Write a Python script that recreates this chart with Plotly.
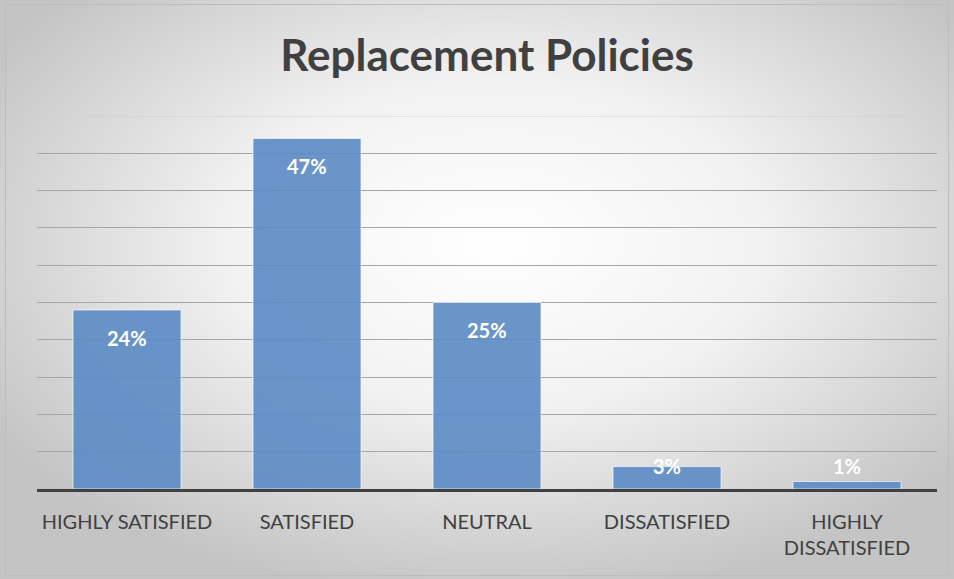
import base64
import plotly.graph_objects as go

# Survey results
categories = ["HIGHLY SATISFIED", "SATISFIED", "NEUTRAL", "DISSATISFIED", "HIGHLY<br>DISSATISFIED"]
values = [24, 47, 25, 3, 1]
labels = ["24%", "47%", "25%", "3%", "1%"]
y_max = 50

W, H = 954, 579
L, R, T, B = 37, 17, 116, 90
pw, ph = W - L - R, H - T - B

# Radial gray-to-white backdrop as an SVG image
svg = f"""<svg xmlns='http://www.w3.org/2000/svg' width='{W}' height='{H}' viewBox='0 0 {W} {H}' preserveAspectRatio='none'>
<defs><radialGradient id='g' cx='52%' cy='42%' r='62%'>
<stop offset='0%' stop-color='#ffffff'/>
<stop offset='45%' stop-color='#f2f2f2'/>
<stop offset='100%' stop-color='#c4c4c4'/>
</radialGradient></defs>
<rect x='0' y='0' width='{W}' height='{H}' fill='url(#g)'/>
<rect x='5.5' y='4.5' width='{W-11}' height='{H-8}' fill='none' stroke='#bdbdbd' stroke-width='1'/>
</svg>"""
src = "data:image/svg+xml;base64," + base64.b64encode(svg.encode()).decode()

fig = go.Figure()
fig.add_trace(go.Bar(
    x=categories, y=values, width=0.6,
    marker=dict(color="#5e8dc6", opacity=0.92, line=dict(color="rgba(255,255,255,0.7)", width=1)),
    hoverinfo="skip",
))

# Value labels inside the top of each bar (kept readable for very short bars)
for c, v, t in zip(categories, values, labels):
    fig.add_annotation(
        x=c, y=max(v - 3.75, 3.1), text=f"<b>{t}</b>", showarrow=False,
        font=dict(family="Lato, Calibri, sans-serif", size=20, color="white"),
        xanchor="center", yanchor="middle",
    )

# Topmost gridline at the axis maximum
fig.add_shape(type="line", xref="paper", yref="y", x0=0, x1=1, y0=y_max, y1=y_max,
              line=dict(color="#cfcfcf", width=1), layer="below")

fig.add_layout_image(dict(
    source=src, xref="paper", yref="paper",
    x=-L / pw, y=1 + T / ph, sizex=W / pw, sizey=H / ph,
    xanchor="left", yanchor="top", sizing="stretch", layer="below",
))

fig.update_layout(
    width=W, height=H,
    margin=dict(l=L, r=R, t=T, b=B, pad=0),
    paper_bgcolor="white", plot_bgcolor="rgba(0,0,0,0)",
    title=dict(text="<b>Replacement Policies</b>", x=0.5, xref="paper", xanchor="center",
               y=1 - 56 / H, yanchor="middle",
               font=dict(family="Lato, Calibri, sans-serif", size=44, color="#404040")),
    bargap=0.4, showlegend=False,
    xaxis=dict(showline=True, linecolor="#404040", linewidth=3, ticks="", showgrid=False,
               tickfont=dict(family="Lato, Calibri, sans-serif", size=20, color="#404040"),
               ticklabelstandoff=13, fixedrange=True),
    yaxis=dict(range=[0, y_max], dtick=5, showgrid=True, gridcolor="#a6a6a6", gridwidth=1,
               showticklabels=False, zeroline=False, fixedrange=True),
)

fig.write_html("out.html")
